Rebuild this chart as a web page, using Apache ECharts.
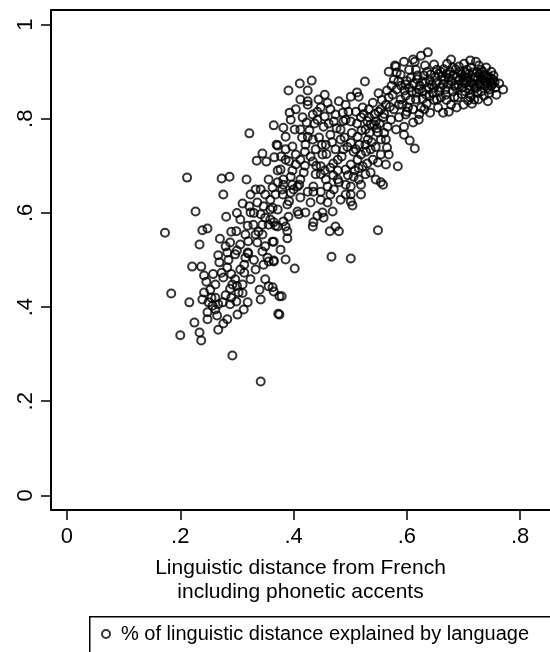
<!DOCTYPE html>
<html>
<head>
<meta charset="utf-8">
<script src="https://cdn.jsdelivr.net/npm/echarts@6/dist/echarts.min.js"></script>
<style>html,body{margin:0;padding:0;background:#fff}#chart{width:550px;height:652px}</style>
</head>
<body>
<div id="chart"></div>
<script>
// Axis ticks and labels
const xTicks = [0, 0.2, 0.4, 0.6, 0.8];
const xTickLabels = ['0', '.2', '.4', '.6', '.8'];
const yTicks = [0, 0.2, 0.4, 0.6, 0.8, 1];
const yTickLabels = ['0', '.2', '.4', '.6', '.8', '1'];
const xTitle = 'Linguistic distance from French\nincluding phonetic accents';
const seriesName = '% of linguistic distance explained by language';

// Points [distance incl. accents, share explained by language]
const lowerCluster = [
[0.173,0.558],[0.184,0.429],[0.200,0.340],[0.212,0.675],[0.216,0.410],[0.221,0.486],[0.225,0.367],[0.227,0.603],
[0.234,0.533],[0.234,0.346],[0.237,0.329],[0.237,0.486],[0.239,0.563],[0.239,0.416],[0.242,0.467],[0.242,0.431],
[0.246,0.454],[0.248,0.567],[0.248,0.374],[0.248,0.389],[0.250,0.410],[0.253,0.437],[0.257,0.403],[0.262,0.420],
[0.262,0.448],[0.265,0.382],[0.267,0.510],[0.267,0.406],[0.267,0.352],[0.269,0.495],[0.273,0.673],[0.273,0.473],
[0.276,0.639],[0.276,0.463],[0.276,0.365],[0.280,0.529],[0.280,0.425],[0.281,0.592],[0.283,0.516],[0.283,0.484],
[0.283,0.374],[0.287,0.677],[0.288,0.537],[0.288,0.439],[0.288,0.406],[0.292,0.448],[0.292,0.297],[0.297,0.512],
[0.297,0.459],[0.299,0.561],[0.299,0.412],[0.301,0.384],[0.303,0.431],[0.306,0.533],[0.306,0.480],[0.306,0.586],
[0.310,0.448],[0.312,0.395],[0.313,0.473],[0.313,0.490],[0.315,0.505],[0.315,0.554],[0.317,0.671],[0.319,0.573],
[0.319,0.516],[0.319,0.410],[0.320,0.514],[0.322,0.769],[0.322,0.614],[0.324,0.601],[0.324,0.459],[0.324,0.639],
[0.329,0.575],[0.333,0.650],[0.333,0.554],[0.333,0.480],[0.335,0.711],[0.336,0.622],[0.336,0.537],[0.340,0.437],
[0.342,0.242],[0.342,0.650],[0.342,0.597],[0.342,0.416],[0.345,0.726],[0.345,0.575],[0.345,0.518],[0.345,0.554],
[0.347,0.614],[0.347,0.490],[0.350,0.529],[0.350,0.639],[0.350,0.459],[0.352,0.709],[0.354,0.505],[0.356,0.671],
[0.356,0.575],[0.356,0.497],[0.356,0.444],[0.359,0.628],[0.359,0.607],[0.359,0.586],[0.363,0.654],[0.363,0.539],
[0.363,0.611],[0.363,0.442],[0.365,0.786],[0.365,0.497],[0.365,0.433],[0.365,0.580],[0.365,0.539],[0.365,0.499],
[0.366,0.718],[0.368,0.639],[0.368,0.573],[0.370,0.745],[0.372,0.607],[0.372,0.571],[0.372,0.665],[0.372,0.743],
[0.373,0.386],[0.375,0.423],[0.375,0.384],[0.377,0.522],[0.377,0.692],[0.379,0.423],
[0.300,0.445],[0.310,0.430],[0.290,0.470],[0.285,0.500],[0.300,0.520],[0.320,0.540],[0.330,0.500],[0.338,0.560],
[0.350,0.590],[0.330,0.600],[0.310,0.620],[0.300,0.600],[0.290,0.560],[0.270,0.545],[0.258,0.470],[0.262,0.395],
[0.275,0.410],[0.290,0.420],[0.255,0.420]
];
const middleBand = [
[0.381,0.639],[0.382,0.781],[0.382,0.671],[0.382,0.660],[0.382,0.582],[0.386,0.762],[0.386,0.571],[0.386,0.713],
[0.386,0.735],[0.386,0.501],[0.389,0.561],[0.389,0.546],[0.389,0.618],[0.391,0.860],[0.391,0.592],[0.393,0.813],
[0.395,0.677],[0.395,0.643],[0.395,0.798],[0.398,0.741],[0.398,0.660],[0.402,0.777],[0.402,0.482],[0.404,0.724],
[0.404,0.820],[0.404,0.703],[0.407,0.656],[0.407,0.603],[0.409,0.597],[0.411,0.875],[0.412,0.841],[0.412,0.713],
[0.412,0.633],[0.412,0.777],[0.412,0.671],[0.416,0.803],[0.418,0.686],[0.421,0.601],[0.421,0.745],[0.423,0.792],
[0.425,0.860],[0.425,0.837],[0.425,0.830],[0.425,0.762],[0.425,0.645],[0.430,0.720],[0.430,0.622],[0.432,0.881],
[0.434,0.756],[0.434,0.571],[0.434,0.809],[0.434,0.709],[0.435,0.656],[0.435,0.645],[0.435,0.580],[0.439,0.735],
[0.439,0.682],[0.442,0.798],[0.442,0.815],[0.442,0.594],[0.444,0.841],[0.448,0.824],[0.448,0.699],[0.448,0.645],
[0.448,0.682],[0.448,0.628],[0.451,0.601],[0.451,0.724],[0.453,0.783],[0.453,0.590],[0.455,0.851],[0.457,0.745],
[0.457,0.671],[0.460,0.834],[0.460,0.656],[0.460,0.622],[0.464,0.561],[0.465,0.696],[0.465,0.820],[0.465,0.766],
[0.465,0.639],[0.467,0.507],[0.469,0.603],[0.471,0.794],[0.471,0.650],[0.474,0.571],[0.474,0.809],[0.474,0.735],
[0.478,0.713],[0.478,0.671],[0.480,0.837],[0.480,0.665],[0.480,0.561],[0.483,0.777],[0.483,0.756],[0.483,0.628],
[0.487,0.813],[0.488,0.735],[0.492,0.830],[0.492,0.692],[0.492,0.798],[0.492,0.660],[0.492,0.639],[0.501,0.847],
[0.501,0.794],[0.501,0.749],[0.501,0.656],[0.501,0.639],[0.501,0.624],[0.501,0.503],[0.501,0.703],[0.504,0.616],
[0.506,0.677],[0.510,0.735],[0.510,0.815],[0.512,0.856],[0.513,0.762],[0.513,0.713],[0.515,0.847],[0.515,0.671],
[0.519,0.803],[0.519,0.724],[0.519,0.660],[0.519,0.639],[0.522,0.824],[0.522,0.699],[0.526,0.879],[0.527,0.745],
[0.527,0.682],[0.527,0.777],[0.531,0.756],[0.533,0.820],[0.533,0.803],[0.536,0.686],[0.536,0.735],[0.536,0.788],
[0.540,0.834],[0.540,0.713],[0.542,0.788],[0.545,0.671],[0.545,0.794],[0.549,0.707],[0.549,0.771],[0.549,0.563],
[0.550,0.854],[0.550,0.815],[0.554,0.665],[0.554,0.820],[0.554,0.756],[0.554,0.724],[0.558,0.660],[0.558,0.803],
[0.563,0.756],[0.563,0.830],[0.563,0.703],[0.565,0.739],[0.566,0.783],[0.568,0.900],[0.568,0.845],[0.568,0.724],
[0.572,0.798],
[0.415,0.760],[0.420,0.730],[0.428,0.775],[0.437,0.790],[0.445,0.760],[0.450,0.745],[0.455,0.805],[0.458,0.725],
[0.462,0.790],[0.468,0.750],[0.470,0.705],[0.476,0.780],[0.478,0.690],[0.485,0.720],[0.488,0.795],[0.490,0.760],
[0.495,0.740],[0.497,0.815],[0.503,0.770],[0.506,0.730],[0.508,0.690],[0.512,0.790],[0.516,0.745],[0.520,0.775],
[0.524,0.810],[0.528,0.730],[0.530,0.795],[0.534,0.770],[0.538,0.750],[0.543,0.810],[0.547,0.780],[0.552,0.790],
[0.556,0.840],[0.560,0.810],[0.565,0.860],[0.570,0.825],[0.573,0.870],[0.560,0.770],[0.545,0.740],[0.530,0.705],
[0.515,0.695],[0.496,0.680],[0.470,0.680],[0.455,0.690],[0.440,0.700],[0.420,0.700],[0.410,0.660],[0.398,0.690],
[0.392,0.710],[0.378,0.720],[0.372,0.690],[0.380,0.650],[0.392,0.625],[0.400,0.650]
];
const upperCluster = [
[0.575,0.851],[0.577,0.883],[0.577,0.820],[0.579,0.913],[0.581,0.911],[0.581,0.777],[0.582,0.898],[0.582,0.862],
[0.584,0.699],[0.586,0.803],[0.586,0.830],[0.589,0.894],[0.589,0.841],[0.595,0.921],[0.595,0.783],[0.595,0.766],
[0.598,0.873],[0.598,0.809],[0.598,0.849],[0.602,0.824],[0.604,0.904],[0.605,0.754],[0.607,0.887],[0.611,0.926],
[0.611,0.792],[0.611,0.820],[0.614,0.737],[0.614,0.921],[0.616,0.904],[0.616,0.841],[0.619,0.892],[0.621,0.862],
[0.621,0.798],[0.625,0.934],[0.625,0.824],[0.628,0.879],[0.632,0.913],[0.634,0.851],[0.635,0.832],[0.637,0.941],
[0.639,0.866],[0.641,0.813],[0.642,0.894],[0.648,0.915],[0.648,0.866],[0.653,0.841],[0.653,0.904],[0.655,0.824],
[0.657,0.858],[0.660,0.900],[0.664,0.873],[0.664,0.813],[0.667,0.883],[0.669,0.851],[0.671,0.917],[0.674,0.887],
[0.674,0.815],[0.678,0.926],[0.678,0.830],[0.681,0.909],[0.681,0.858],[0.687,0.866],[0.688,0.824],[0.690,0.845],
[0.692,0.911],[0.692,0.883],[0.696,0.894],[0.699,0.879],[0.701,0.917],[0.703,0.858],[0.706,0.904],[0.706,0.887],
[0.708,0.839],[0.710,0.870],[0.712,0.924],[0.713,0.851],[0.713,0.909],[0.715,0.832],[0.717,0.887],[0.719,0.841],
[0.720,0.866],[0.722,0.921],[0.724,0.900],[0.726,0.841],[0.727,0.913],[0.727,0.875],[0.731,0.858],[0.731,0.904],
[0.735,0.892],[0.736,0.849],[0.738,0.870],[0.740,0.909],[0.742,0.887],[0.743,0.866],[0.743,0.837],[0.745,0.854],
[0.747,0.879],[0.749,0.870],[0.749,0.900],[0.752,0.883],[0.756,0.866],[0.758,0.851],[0.763,0.875],[0.770,0.862],
[0.600,0.880],[0.604,0.866],[0.609,0.858],[0.612,0.875],[0.618,0.884],[0.623,0.870],[0.627,0.858],[0.630,0.892],
[0.633,0.877],[0.636,0.900],[0.640,0.882],[0.644,0.872],[0.646,0.855],[0.650,0.888],[0.652,0.876],[0.656,0.895],
[0.659,0.866],[0.662,0.890],[0.665,0.905],[0.668,0.862],[0.670,0.895],[0.673,0.874],[0.676,0.900],[0.679,0.880],
[0.682,0.892],[0.684,0.870],[0.686,0.905],[0.689,0.888],[0.691,0.873],[0.694,0.900],[0.697,0.866],[0.700,0.890],
[0.702,0.876],[0.704,0.898],[0.707,0.880],[0.709,0.895],[0.711,0.862],[0.714,0.876],[0.716,0.898],[0.718,0.874],
[0.721,0.888],[0.723,0.866],[0.725,0.883],[0.728,0.894],[0.730,0.872],[0.733,0.884],[0.734,0.900],[0.737,0.880],
[0.739,0.892],[0.741,0.876],[0.744,0.890],[0.746,0.862],[0.748,0.886],[0.751,0.874],[0.753,0.892],[0.755,0.878],
[0.697,0.852],[0.684,0.846],[0.670,0.840],[0.660,0.845],[0.648,0.840],[0.640,0.848],[0.628,0.842],[0.617,0.855],
[0.606,0.840],[0.596,0.860],[0.590,0.870],[0.585,0.880],[0.592,0.830],[0.600,0.815],[0.622,0.810],[0.631,0.820],
[0.712,0.845],[0.725,0.855],[0.700,0.830]
];

const points = lowerCluster.concat(middleBand, upperCluster);
const FONT = '"Liberation Sans", Arial, Helvetica, sans-serif';
const X_MIN = -0.0282, X_MAX = 0.8527;

function lookup(ticks, labels) {
  return function (v) {
    for (let i = 0; i < ticks.length; i++) {
      if (Math.abs(ticks[i] - v) < 1e-9) return labels[i];
    }
    return '';
  };
}

const chart = echarts.init(document.getElementById('chart'), null, { renderer: 'canvas' });
chart.setOption({
  backgroundColor: '#fff',
  animation: false,
  textStyle: { fontFamily: FONT, color: '#000' },
  grid: {
    left: 51, top: 10, right: 0, height: 500,
    show: false,
    containLabel: false
  },
  xAxis: [{
    type: 'value',
    position: 'bottom',
    min: X_MIN, max: X_MAX,
    splitLine: { show: false },
    axisLine: { show: true, onZero: false, lineStyle: { color: '#000', width: 2 } },
    axisTick: { show: true, customValues: xTicks, length: 10, lineStyle: { color: '#000', width: 1.5 } },
    axisLabel: {
      customValues: xTicks, formatter: lookup(xTicks, xTickLabels),
      fontSize: 22, color: '#000', fontFamily: FONT, margin: 16
    },
    name: xTitle,
    nameLocation: 'middle',
    nameGap: 46,
    nameTextStyle: { fontSize: 21, lineHeight: 24, color: '#000', fontFamily: FONT, align: 'center' }
  }, {
    type: 'value',
    position: 'top',
    min: X_MIN, max: X_MAX,
    splitLine: { show: false },
    axisLine: { show: true, onZero: false, lineStyle: { color: '#000', width: 2 } },
    axisTick: { show: false },
    axisLabel: { show: false }
  }],
  yAxis: {
    type: 'value',
    min: -0.031, max: 1.031,
    splitLine: { show: false },
    axisLine: { show: true, onZero: false, lineStyle: { color: '#000', width: 2 } },
    axisTick: { show: true, customValues: yTicks, length: 10, lineStyle: { color: '#000', width: 1.5 } },
    axisLabel: {
      customValues: yTicks, formatter: lookup(yTicks, yTickLabels),
      rotate: 90, fontSize: 22, color: '#000', fontFamily: FONT, margin: 14
    }
  },
  legend: {
    show: true,
    left: 101, top: 624,
    padding: 0,
    itemWidth: 8, itemHeight: 8, itemGap: 10,
    data: [{ name: seriesName, icon: 'circle', itemStyle: { color: '#fff', borderColor: '#000', borderWidth: 2 } }],
    textStyle: { fontSize: 20, color: '#000', fontFamily: FONT, padding: [0, 0, 0, 6] }
  },
  graphic: [{
    type: 'rect', left: 89, top: 616, z: -1,
    shape: { width: 520, height: 60 },
    style: { fill: '#fff', stroke: '#000', lineWidth: 1.5 }
  }],
  series: [{
    name: seriesName,
    type: 'scatter',
    xAxisIndex: 0,
    data: points,
    symbol: 'circle',
    symbolSize: 8,
    itemStyle: { color: 'rgba(0,0,0,0)', borderColor: '#000', borderWidth: 2 },
    emphasis: { disabled: true }
  }]
});
</script>
</body>
</html>
